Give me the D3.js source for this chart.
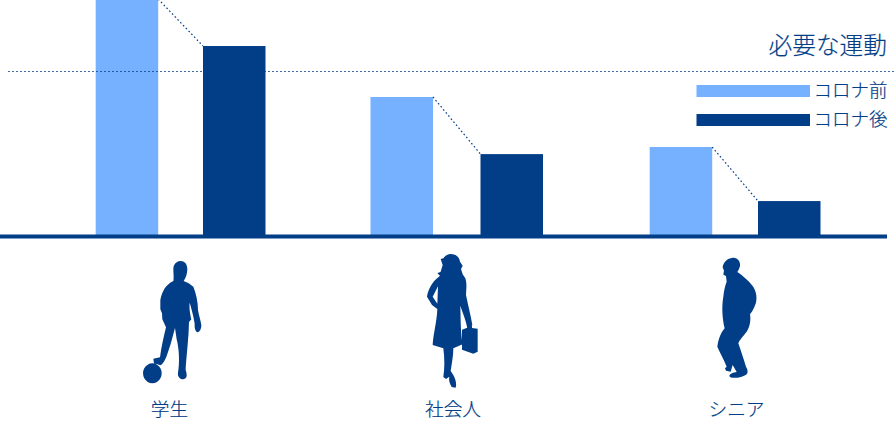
<!DOCTYPE html>
<html><head><meta charset="utf-8">
<script src="https://cdn.jsdelivr.net/npm/d3@7/dist/d3.min.js"></script>
<style>html,body{margin:0;background:#fff}svg{display:block}text{font-family:"Noto Sans CJK JP","Noto Sans",sans-serif;font-weight:300;fill:#023e87;stroke:#023e87;stroke-width:.2}</style>
</head><body><svg id="c" width="895" height="424"></svg>
<script>
const categories=["学生","社会人","シニア"];
const seriesNames=["コロナ前","コロナ後"];
const before=[100.4,58.9,37.7];
const after=[80.5,34.7,14.8];
const requiredLevel=69.5;
const requiredLabel="必要な運動";
const barX0=[95.7,370.5,649.7];
const barX1=[203,480.5,758];
const labelX=[169.5,453,736.5];
const LIGHT="#75b1ff",DARK="#023e87";
const svg=d3.select("#c");
const y=d3.scaleLinear().domain([0,100]).range([236,0]);
const bw=62.5;
// bars
svg.selectAll(".b0").data(before).join("rect").attr("x",(d,i)=>barX0[i]).attr("width",bw).attr("y",d=>y(d)).attr("height",d=>y(0)-y(d)).attr("fill",LIGHT);
svg.selectAll(".b1").data(after).join("rect").attr("x",(d,i)=>barX1[i]).attr("width",bw).attr("y",d=>y(d)).attr("height",d=>y(0)-y(d)).attr("fill",DARK);
// required line
svg.append("path").attr("d",`M8 ${Math.round(y(requiredLevel))-.5}H895`).attr("stroke",DARK).attr("stroke-width",1).attr("stroke-dasharray","2 2").attr("fill","none").attr("opacity",.75);
// connectors
categories.forEach((c,i)=>{
 svg.append("line").attr("x1",barX0[i]+bw).attr("y1",y(before[i])).attr("x2",barX1[i]).attr("y2",y(after[i]))
  .attr("stroke",DARK).attr("stroke-width",1.2).attr("stroke-dasharray","1.6 2.4");
});
// baseline
svg.append("rect").attr("x",0).attr("y",234.5).attr("width",887).attr("height",4).attr("fill",DARK);
// legend
svg.append("text").attr("x",887).attr("y",54).attr("text-anchor","end").attr("font-size",23.7).text(requiredLabel);
[LIGHT,DARK].forEach((col,i)=>{
 const yy=[85,114][i];
 svg.append("rect").attr("x",696.5).attr("y",yy).attr("width",113.5).attr("height",12).attr("fill",col);
 svg.append("text").attr("x",813.5).attr("y",yy+12).attr("font-size",18.5).text(seriesNames[i]);
});
// category labels
svg.selectAll(".l").data(categories).join("text").attr("x",(d,i)=>labelX[i]).attr("y",416).attr("text-anchor","middle").attr("font-size",18.7).text(d=>d);
// silhouettes (traced at 3x)
const boy="M150 33C162 32 172 40 172 58C172 72 167 84 161 93L176 100L190 110C198 130 204 155 204 180C206 195 212 210 214 226C214 238 208 247 203 247C196 245 193 235 194 222C192 205 185 178 179 158C177 175 181 195 184 208L177 216C176 240 176 255 174 270C172 300 168 335 167 360C172 375 172 385 160 388C150 388 142 380 144 368C149 340 148 300 140 268L135 234L122 282L110 318C105 330 99 342 92 346L72 340L70 326L90 322C94 290 102 258 108 232L97 208L96 190L91 178L91 150C96 125 106 105 130 93C132 85 130 70 130 58C130 42 140 34 150 33Z M67 340A28 30 0 1 0 67.1 340Z";
const woman="M120 27C135 26 148 35 150 50L158 62L153 72L158 88L166 100C172 120 168 135 168 150C174 180 182 210 187 240L172 250C168 225 158 205 151 182C152 225 152 265 158 298L130 310C130 332 126 352 122 378C132 392 142 410 137 428L125 426C118 415 116 405 118 395L108 402L100 396C104 370 104 340 100 310L68 300C70 265 80 235 82 192L66 180L51 155C54 135 65 115 78 103L90 92L82 85L92 80L98 60L92 42L100 40C106 32 112 28 120 27Z M84 124L68 155L82 176Z";
const bag="M156 254L172 248C172 240 176 236 182 238C186 240 187 245 186 249L203 251L203 320L190 326L156 314Z";
const man="M95 24C110 20 122 32 120 48C118 56 115 62 112 66C125 75 145 90 158 108C168 122 172 140 168 158C162 175 155 188 150 192C153 210 150 230 140 245C130 258 118 270 115 280C122 300 130 325 138 350C148 368 142 375 125 380C108 385 90 385 88 378C90 370 100 368 110 366L98 345L92 365L78 362L75 355L80 350C70 325 58 305 52 290C55 265 65 245 74 235C68 210 64 175 70 140C72 120 76 105 80 95L78 78L70 74L72 62L68 52C70 38 80 26 95 24Z";
const icons=[[boy,130,250],[woman,410,245],[man,700,250]];
icons.forEach(([d,ox,oy])=>svg.append("path").attr("transform",`translate(${ox},${oy}) scale(${1/3})`).attr("d",d).attr("fill",DARK).attr("fill-rule","evenodd"));
svg.append("path").attr("transform",`translate(410,245) scale(${1/3})`).attr("d",bag).attr("fill",DARK);
</script></body></html>
